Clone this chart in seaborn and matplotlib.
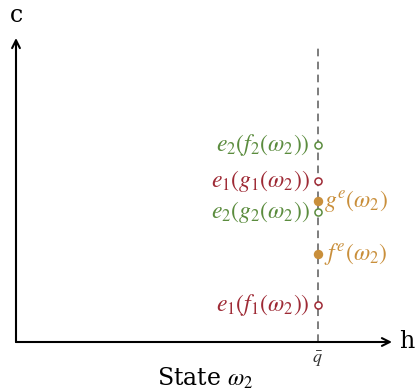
import matplotlib
matplotlib.use("Agg")
import matplotlib.pyplot as plt
import seaborn as sns
import pandas as pd

sns.set_theme(style="white")
plt.rcParams["font.family"] = ["DejaVu Serif"]
plt.rcParams["mathtext.fontset"] = "stix"

RED = "#9e2a35"
GREEN = "#5b8c3e"
ORANGE = "#c98f3b"

# Outcomes at the cap q-bar in state omega_2
q_bar = 0.803
labels = [r"$e_2(f_2(\omega_2))$", r"$e_1(g_1(\omega_2))$", r"$g^e(\omega_2)$",
          r"$e_2(g_2(\omega_2))$", r"$f^e(\omega_2)$", r"$e_1(f_1(\omega_2))$"]
c_values = [0.648, 0.530, 0.464, 0.428, 0.289, 0.122]
kinds = ["open", "open", "filled", "open", "filled", "open"]
colors = [GREEN, RED, ORANGE, GREEN, ORANGE, RED]
sides = ["left", "left", "right", "left", "right", "left"]

df = pd.DataFrame({"h": [q_bar] * len(c_values), "c": c_values, "label": labels,
                   "kind": kinds, "color": colors, "side": sides})

W, H = 418, 392
fig = plt.figure(figsize=(W / 100, H / 100), dpi=100)
ax = fig.add_axes([16 / W, 50 / H, 376 / W, 304 / H])
ax.set_xlim(0, 1)
ax.set_ylim(0, 1)
ax.axis("off")

# axes with arrow heads
arrow = dict(arrowstyle="->", color="black", lw=1.5, mutation_scale=14,
             shrinkA=0, shrinkB=0)
ax.annotate("", xy=(1.0, 0), xytext=(0, 0), arrowprops=arrow, annotation_clip=False)
ax.annotate("", xy=(0, 1.0), xytext=(0, 0), arrowprops=arrow, annotation_clip=False)
ax.text(0.002, 1.075, "c", fontsize=17, ha="center", va="center", color="black")
ax.text(1.02, 0, "h", fontsize=17, ha="left", va="center", color="black")

# dashed cap line
ax.plot([q_bar, q_bar], [0, 0.98], ls=(0, (5, 3.5)), color="#5a5a5a", lw=1.1)
ax.text(q_bar, -0.025, r"$\bar{q}$", fontsize=13, ha="center", va="top", color="#333333")

for i, r in df.iterrows():
    sub = df.loc[[i]]
    if r["kind"] == "open":
        sns.scatterplot(data=sub, x="h", y="c", ax=ax, s=26, marker="o",
                        facecolor="white", edgecolor=r["color"], linewidth=1.1,
                        legend=False, zorder=3)
    else:
        sns.scatterplot(data=sub, x="h", y="c", ax=ax, s=46, marker="o",
                        color=r["color"], edgecolor=r["color"], linewidth=0,
                        legend=False, zorder=3)
    if r["side"] == "left":
        ax.text(q_bar - 0.022, r["c"], r["label"], fontsize=17, color=r["color"],
                ha="right", va="center")
    else:
        ax.text(q_bar + 0.016, r["c"], r["label"], fontsize=17, color=r["color"],
                ha="left", va="center")

ax.text(0.503, -0.118, r"State $\omega_2$", fontsize=17, ha="center", va="center",
        color="black")

fig.savefig("out.png", dpi=100)
